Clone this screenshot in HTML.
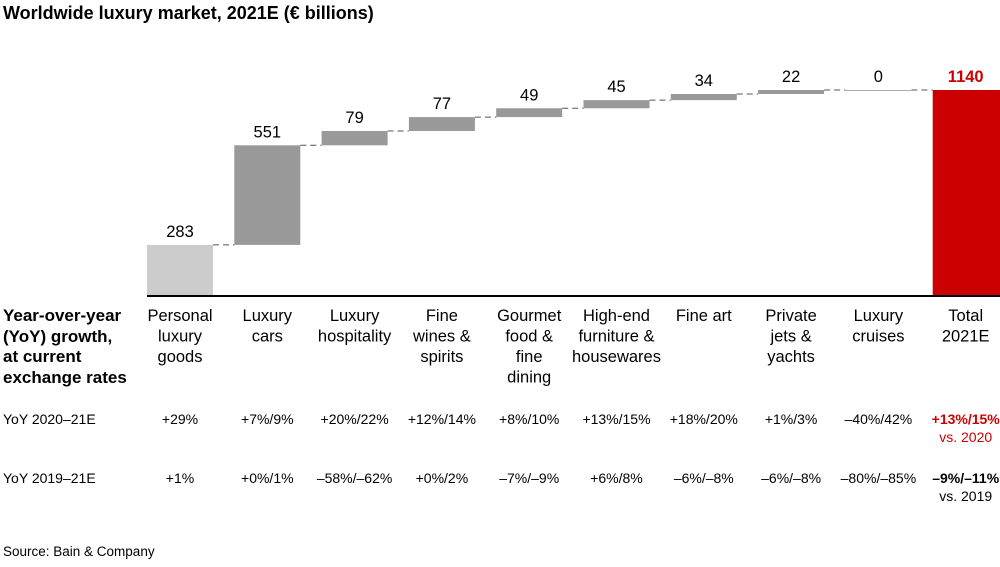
<!DOCTYPE html>
<html><head><meta charset="utf-8"><style>
body{margin:0;background:#fff;font-family:"Liberation Sans",Arial,sans-serif;}
svg text{font-family:"Liberation Sans",Arial,sans-serif;}
</style></head><body>
<svg width="1000" height="562" xmlns="http://www.w3.org/2000/svg">
<text x="3" y="19" font-size="18" font-weight="bold" fill="#000">Worldwide luxury market, 2021E (€ billions)</text>
<g id="bars"></g>
<line x1="147" y1="296" x2="1000" y2="296" stroke="#000" stroke-width="2"/>
<g font-size="17" fill="#000" font-weight="bold">
<text x="3" y="321">Year-over-year</text><text x="3" y="342">(YoY) growth,</text><text x="3" y="362">at current</text><text x="3" y="383">exchange rates</text></g>
<g id="cats"></g>
<text x="3" y="424" font-size="14">YoY 2020–21E</text>
<text x="3" y="483" font-size="14">YoY 2019–21E</text>
<g id="yoy"></g>
<text x="3" y="556" font-size="13.5">Source: Bain &amp; Company</text>
</svg>
<script>
const categories=[["Personal","luxury","goods"],["Luxury","cars"],["Luxury","hospitality"],["Fine","wines &","spirits"],["Gourmet","food &","fine","dining"],["High-end","furniture &","housewares"],["Fine art"],["Private","jets &","yachts"],["Luxury","cruises"],["Total","2021E"]];
const values=[283,551,79,77,49,45,34,22,0];
const total=1140;
const yoy2020=["+29%","+7%/9%","+20%/22%","+12%/14%","+8%/10%","+13%/15%","+18%/20%","+1%/3%","–40%/42%","+13%/15%"];
const yoy2019=["+1%","+0%/1%","–58%/–62%","+0%/2%","–7%/–9%","+6%/8%","–6%/–8%","–6%/–8%","–80%/–85%","–9%/–11%"];
const NS="http://www.w3.org/2000/svg";
const base=296,top0=90,x0=147,step=87.3,bw=66;
const y=v=>base-v*(base-top0)/total;
const xc=i=>x0+i*step+bw/2;
function mk(tag,attrs,parent){const e=document.createElementNS(NS,tag);for(const k in attrs)e.setAttribute(k,attrs[k]);parent.appendChild(e);return e;}
const gb=document.getElementById('bars');
let cum=0;
values.forEach((v,i)=>{
 const y1=y(cum+v),y2=y(cum);
 const r=mk('rect',{x:x0+i*step,y:y1,width:bw,height:Math.max(y2-y1,0.8),fill:i===0?'#cccccc':'#999999'},gb);
 
 
 const t=mk('text',{x:xc(i),y:y1-8,'font-size':16.5,'text-anchor':'middle'},gb);t.textContent=v;
 
 
 cum+=v;
 const l=mk('line',{x1:x0+i*step+bw,x2:x0+(i+1)*step,y1:y(cum),y2:y(cum),stroke:'#555','stroke-dasharray':'6,4'},gb);
 
 
});
const ti=values.length;
const tr=mk('rect',{x:x0+ti*step,y:y(total),width:1000-(x0+ti*step),height:base-y(total),fill:'#cc0000'},gb);


const tt=mk('text',{x:xc(ti),y:y(total)-8,'font-size':16.5,'font-weight':'bold','text-anchor':'middle',fill:'#cc0000'},gb);tt.textContent=total;


const gc=document.getElementById('cats');
categories.forEach((c,i)=>{c.forEach((s,j)=>{const t=mk('text',{x:xc(i),y:321+j*20.5,'font-size':16.5,'text-anchor':'middle'},gc);t.textContent=s;
 
 });});
const gy=document.getElementById('yoy');
yoy2020.forEach((s,i)=>{const last=i===ti;const t=mk('text',{x:xc(i),y:424,'font-size':14,'text-anchor':'middle',fill:last?'#cc0000':'#000','font-weight':last?'bold':'normal'},gy);t.textContent=s;
 
 });
yoy2019.forEach((s,i)=>{const last=i===ti;const t=mk('text',{x:xc(i),y:483,'font-size':14,'text-anchor':'middle','font-weight':last?'bold':'normal'},gy);t.textContent=s;
 
 });
const v1=mk('text',{x:xc(ti),y:442,'font-size':14,'text-anchor':'middle',fill:'#cc0000'},gy);v1.textContent='vs. 2020';


const v2=mk('text',{x:xc(ti),y:501,'font-size':14,'text-anchor':'middle'},gy);v2.textContent='vs. 2019';


</script>
</body></html>
